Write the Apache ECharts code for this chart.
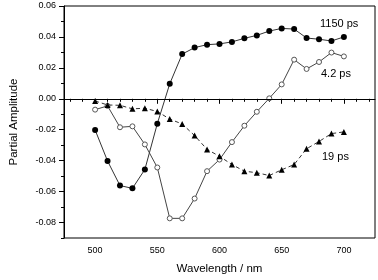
<!DOCTYPE html>
<html>
<head>
<meta charset="utf-8">
<script src="https://cdn.jsdelivr.net/npm/echarts@6/dist/echarts.min.js"></script>
<style>html,body{margin:0;padding:0;background:#fff}#c{width:378px;height:280px}</style>
</head>
<body>
<div id="c"></div>
<script>
var wavelengths = [500,510,520,530,540,550,560,570,580,590,600,610,620,630,640,650,660,670,680,690,700];
var amp1150 = [-0.0201,-0.0402,-0.0561,-0.0579,-0.0457,-0.0161,0.0097,0.0289,0.0331,0.0350,0.0355,0.0368,0.0391,0.0410,0.0438,0.0455,0.0451,0.0393,0.0385,0.0374,0.0400];
var amp4p2 = [-0.0070,-0.0046,-0.0184,-0.0178,-0.0295,-0.0444,-0.0773,-0.0773,-0.0645,-0.0468,-0.0393,-0.0280,-0.0174,-0.0084,0.0003,0.0093,0.0253,0.0193,0.0238,0.0299,0.0274];
var amp19 = [-0.0014,-0.0040,-0.0042,-0.0065,-0.0061,-0.0082,-0.0131,-0.0163,-0.0238,-0.0327,-0.0372,-0.0425,-0.0468,-0.0478,-0.0496,-0.0459,-0.0425,-0.0323,-0.0276,-0.0225,-0.0214];
var xLabels = [500,550,600,650,700];
var xMinor = [480,490,510,520,530,540,560,570,580,590,610,620,630,640,660,670,680,690,710,720];
var yLabels = [-0.08,-0.06,-0.04,-0.02,0,0.02,0.04,0.06];
var yMinor = [-0.09,-0.07,-0.05,-0.03,-0.01,0.01,0.03,0.05];
var seriesNames = ['1150 ps','4.2 ps','19 ps'];

function pairs(ys){ return wavelengths.map(function(w,i){ return [w, ys[i]]; }); }
var FONT = 'Liberation Sans, Arial, sans-serif';
var chart = echarts.init(document.getElementById('c'), null, {renderer:'canvas'});
chart.setOption({
  animation:false,
  grid:{left:56,right:3,top:6,bottom:39.5,show:true,borderColor:'#000',borderWidth:1,backgroundColor:'transparent'},
  xAxis:[{
    type:'value',min:475,max:725,
    name:'Wavelength / nm',nameLocation:'middle',nameGap:25,
    nameTextStyle:{fontFamily:FONT,fontSize:11.5,color:'#000'},
    axisLine:{show:true,lineStyle:{color:'#000',width:1}},
    axisTick:{show:true,length:5,lineStyle:{color:'#000'},customValues:xLabels},
    axisLabel:{fontFamily:FONT,fontSize:9,color:'#000',margin:8,customValues:xLabels},
    splitLine:{show:false}
  },{
    type:'value',min:475,max:725,position:'bottom',
    axisLine:{show:false},
    axisTick:{show:true,length:3,lineStyle:{color:'#000'},customValues:xMinor},
    axisLabel:{show:false},splitLine:{show:false}
  }],
  yAxis:[{
    type:'value',min:-0.09,max:0.06,
    name:'Partial Amplitude',nameLocation:'middle',nameGap:44,
    nameTextStyle:{fontFamily:FONT,fontSize:11.5,color:'#000'},
    axisLine:{show:true,lineStyle:{color:'#000',width:1}},
    axisTick:{show:true,length:5,lineStyle:{color:'#000'},customValues:yLabels},
    axisLabel:{fontFamily:FONT,fontSize:9,color:'#000',margin:8,customValues:yLabels,
      formatter:function(v){ return v.toFixed(2); }},
    splitLine:{show:false}
  },{
    type:'value',min:-0.09,max:0.06,position:'left',
    axisLine:{show:false},
    axisTick:{show:true,length:3,lineStyle:{color:'#000'},customValues:yMinor},
    axisLabel:{show:false},splitLine:{show:false}
  }],
  series:[{
    name:seriesNames[0],type:'line',data:pairs(amp1150),
    symbol:'circle',symbolSize:6,
    itemStyle:{color:'#000'},lineStyle:{color:'#333',width:1},
    markLine:{silent:true,symbol:'none',label:{show:false},
      lineStyle:{color:'#000',width:1,type:'solid'},data:[{yAxis:0}]}
  },{
    name:seriesNames[1],type:'line',data:pairs(amp4p2),
    symbol:'circle',symbolSize:5,
    itemStyle:{color:'#fff',borderColor:'#555',borderWidth:1},lineStyle:{color:'#444',width:1}
  },{
    name:seriesNames[2],type:'line',data:pairs(amp19),
    symbol:'triangle',symbolSize:6,
    itemStyle:{color:'#000'},lineStyle:{color:'#333',width:1,type:[4,3]}
  }],
  graphic:[
    {type:'text',left:320,top:18,style:{text:seriesNames[0],font:'11px '+FONT,fill:'#000'}},
    {type:'text',left:321,top:68,style:{text:seriesNames[1],font:'11px '+FONT,fill:'#000'}},
    {type:'text',left:322,top:151,style:{text:seriesNames[2],font:'11px '+FONT,fill:'#000'}}
  ]
});
</script>
</body>
</html>
